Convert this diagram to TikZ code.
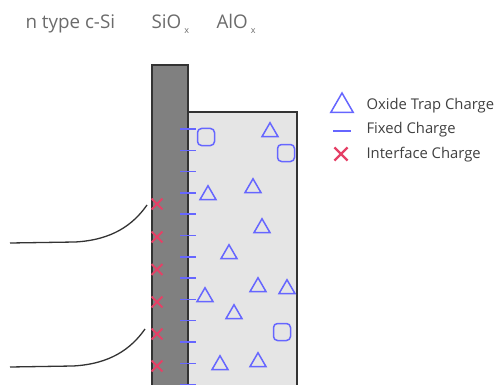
\documentclass[tikz,border=0pt]{standalone}
\usepackage{fontspec}
\setmainfont{Open Sans}
\usetikzlibrary{shapes.geometric}
\usetikzlibrary{shapes.misc}
\def\boxedge{1.6}
\def\chargeedge{1.5}
\definecolor{edgegray}{rgb}{0.2,0.2,0.2}
\definecolor{siogray}{rgb}{0.5,0.5,0.5}
\definecolor{alogray}{rgb}{0.9,0.9,0.9}
\definecolor{chargeblue}{rgb}{0.4,0.4,1}
\definecolor{chargered}{rgb}{0.9,0.25,0.4}
\definecolor{titlegray}{rgb}{0.42,0.42,0.42}
\definecolor{legendgray}{rgb}{0.25,0.25,0.25}
\tikzset{
  trap/.style={regular polygon, regular polygon sides=3, draw=chargeblue, line width=\chargeedge, inner sep=0pt, minimum size=18.5pt},
  sqtrap/.style={draw=chargeblue, line width=\chargeedge, rounded corners=4pt, inner sep=0pt, minimum size=17pt},
  iface/.style={cross out, draw=chargered, line width=1.8, inner sep=0pt, minimum size=9pt},
  title/.style={anchor=base west, text=titlegray, font=\fontsize{18.8}{18.8}\selectfont},
  legendtext/.style={anchor=base west, text=legendgray, font=\fontsize{14.8}{14.8}\selectfont}
}

\begin{document}
\begin{tikzpicture}[x = 1pt, y = -1pt]
        \useasboundingbox (0,0) rectangle (495,385);

        % layer titles
        \node [title](si) at (22,29){n type c-Si};
        \node [title](sio) at (148,29){SiO\,\raisebox{-5pt}{\fontsize{9}{9}\selectfont x}};
        \node [title](alo) at (213,29){AlO\,\raisebox{-5pt}{\fontsize{9}{9}\selectfont x}};

        % AlOx layer
            \coordinate (a1) at (188,387);
            \coordinate (a2) at (188,112);
            \coordinate (a3) at (297,112);
            \coordinate (a4) at (297,387);
        \draw [line width=\boxedge,color=edgegray,fill=alogray] (a1) -- (a2) -- (a3) -- (a4);

        % SiOx layer
            \coordinate (s1) at (152,387);
            \coordinate (s2) at (152,65);
            \coordinate (s3) at (188,65);
            \coordinate (s4) at (188,387);
        \draw [line width=\boxedge,color=edgegray,fill=siogray] (s1) -- (s2) -- (s3) -- (s4);

        % fixed charge
        \foreach \y in {129,150.3,171.6,192.9,214.2,235.5,256.8,278.1,299.4,320.7,342,363.3,384.6}
            \draw [line width=\chargeedge,color=chargeblue] (180,\y) -- (196,\y);

        % interface charge
        \foreach \y [count=\i] in {204,237,269.5,302,334,366}
            \node [iface](it\i) at (157,\y){};

        % oxide trap charge
        \node [trap](t1) at (270,132){};
        \node [trap](t2) at (208,195){};
        \node [trap](t3) at (253,188){};
        \node [trap](t4) at (262,228){};
        \node [trap](t5) at (229,254){};
        \node [trap](t6) at (258,287){};
        \node [trap](t7) at (287,289){};
        \node [trap](t8) at (205,297){};
        \node [trap](t9) at (234,314){};
        \node [trap](t10) at (220,365){};
        \node [trap](t11) at (258,362){};

        \node [sqtrap](q1) at (206,137){};
        \node [sqtrap](q2) at (286,153){};
        \node [sqtrap](q3) at (282,332){};

        % band bending
            \coordinate (b1) at (10,243);
            \coordinate (b2) at (75,242);
            \coordinate (b3) at (147,205);
        \draw [line width=1.3,color=edgegray] (b1) -- (b2) .. controls (112,240) and (133,225) .. (b3);
            \coordinate (c1) at (10,367);
            \coordinate (c2) at (73,366);
            \coordinate (c3) at (145,329);
        \draw [line width=1.3,color=edgegray] (c1) -- (c2) .. controls (110,364) and (131,349) .. (c3);

        % legend
        \node [trap, minimum size=26pt](lt) at (342,106){};
        \node [legendtext](ltt) at (363,110){Oxide Trap Charge};
            \coordinate (lf1) at (333,131);
            \coordinate (lf2) at (351,131);
        \draw [line width=\chargeedge,color=chargeblue] (lf1) -- (lf2);
        \node [legendtext](lft) at (363,134){Fixed Charge};
        \node [iface, minimum size=11pt, line width=2.2](li) at (341,154){};
        \node [legendtext](lit) at (363,158){Interface Charge};
\end{tikzpicture}
\end{document}
